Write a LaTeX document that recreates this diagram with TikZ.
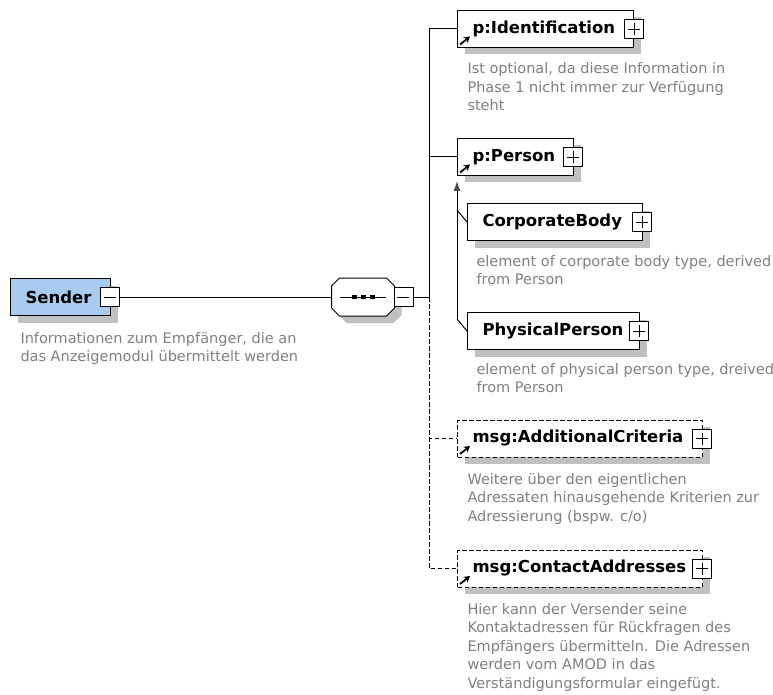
\documentclass[tikz,border=0pt]{standalone}
\usepackage{fontspec}
\setmainfont{DejaVu Sans}
\usetikzlibrary{arrows.meta, shadows}

\definecolor{senderblue}{RGB}{168, 204, 240}
\definecolor{shadowgray}{RGB}{192, 192, 192}
\definecolor{docgray}{RGB}{128, 128, 128}

\begin{document}
\begin{tikzpicture}[x = 1pt, y = -1pt, > = latex, line width = 1pt,
	element/.style = {draw, fill = white, inner xsep = 15pt, inner ysep = 0pt, minimum height = 37pt,
		anchor = west, align = left, font = {\fontsize{16.5}{19}\selectfont\bfseries\hyphenpenalty=10000\relax},
		drop shadow = {shadow xshift = 7pt, shadow yshift = -7pt, fill = shadowgray, opacity = 1}},
	optional/.style = {element, dash pattern = on 4.5pt off 2.5pt},
	optlink/.style = {dash pattern = on 4.5pt off 2.5pt},
	pmbox/.style = {draw, fill = white, minimum size = 19pt, inner sep = 0pt, line width = 0.9pt},
	plusbox/.style = {pmbox, path picture = {
		\draw [line width = 0.9pt] ([xshift = 3.5pt]path picture bounding box.west) -- ([xshift = -3.5pt]path picture bounding box.east);
		\draw [line width = 0.9pt] ([yshift = -3.5pt]path picture bounding box.north) -- ([yshift = 3.5pt]path picture bounding box.south);}},
	minusbox/.style = {pmbox, path picture = {
		\draw [line width = 0.9pt] ([xshift = 3.5pt]path picture bounding box.west) -- ([xshift = -3.5pt]path picture bounding box.east);}},
	refarrow/.style = {line width = 1.8pt, -{Stealth[length = 6pt, width = 7pt]}},
	% doc nodes sit on the baseline of their last line
	doc/.style = {anchor = base west, inner sep = 0pt, align = left, text = docgray,
		font = {\fontsize{14.5}{18.5}\selectfont}}]

	\useasboundingbox (0, 0) rectangle (773, 695);

	% The root element

	\node [element, fill = senderblue, text width = 70pt] (sender) at (10, 297) {Sender};
	\node [minusbox] (senderpm) at ([xshift = -1.5pt]sender.east) {};
	\node [doc] (senderdoc) at (20, 361.5) {Informationen zum Empfänger, die an\\das Anzeigemodul übermittelt werden};

	% Sequence compositor

	\node [minimum width = 62pt, minimum height = 37pt, inner sep = 0pt] (seq) at (363, 297) {};

	\fill [shadowgray, transform canvas = {shift = {(7pt, -7pt)}}] ([xshift = 8pt]seq.north west) -- ([xshift = -8pt]seq.north east)
		-- ([yshift = -8pt]seq.north east) -- ([yshift = 8pt]seq.south east) -- ([xshift = -8pt]seq.south east)
		-- ([xshift = 8pt]seq.south west) -- ([yshift = 8pt]seq.south west) -- ([yshift = -8pt]seq.north west) -- cycle;
	\draw [fill = white] ([xshift = 8pt]seq.north west) -- ([xshift = -8pt]seq.north east)
		-- ([yshift = -8pt]seq.north east) -- ([yshift = 8pt]seq.south east) -- ([xshift = -8pt]seq.south east)
		-- ([xshift = 8pt]seq.south west) -- ([yshift = 8pt]seq.south west) -- ([yshift = -8pt]seq.north west) -- cycle;

	\draw (340, 297) -- (386, 297);
	\foreach \x in {352, 361, 370}
		\fill (\x, 294.75) rectangle ++(5, 4.5);

	\node [minusbox, anchor = west] (seqpm) at ([xshift = -1pt]seq.east) {};

	\draw (senderpm.east) -- (seq.west);

	% Children of the sequence

	\coordinate (bus) at (429, 297);

	\node [element, text width = 146pt] (ident) at (457, 29) {p:Identification};
	\node [plusbox] (identpm) at (ident.east) {};
	\node [doc] (identdoc) at (467, 111) {Ist optional, da diese Information in\\Phase 1 nicht immer zur Verfügung\\steht};

	\node [element, text width = 86pt] (person) at (457, 157) {p:Person};
	\node [plusbox] (personpm) at ([xshift = -1pt]person.east) {};

	\node [element, text width = 145pt] (corp) at (467, 222) {CorporateBody};
	\node [plusbox] (corppm) at ([xshift = -1pt]corp.east) {};
	\node [doc] (corpdoc) at (476, 284.5) {element of corporate body type, derived\\from Person};

	\node [element, text width = 142pt] (phys) at (467, 331) {PhysicalPerson};
	\node [plusbox] (physpm) at ([xshift = -1pt]phys.east) {};
	\node [doc] (physdoc) at (476, 392.5) {element of physical person type, dreived\\from Person};

	\node [optional, text width = 215pt] (addcrit) at (457, 438.5) {msg:AdditionalCriteria};
	\node [plusbox] (addcritpm) at ([xshift = -1pt]addcrit.east) {};
	\node [doc] (addcritdoc) at (467, 521) {Weitere über den eigentlichen\\Adressaten hinausgehende Kriterien zur\\Adressierung (bspw. c/o)};

	\node [optional, text width = 215pt] (contact) at (457, 568.5) {msg:ContactAddresses};
	\node [plusbox] (contactpm) at ([xshift = -1pt]contact.east) {};
	\node [doc] (contactdoc) at (467, 688) {Hier kann der Versender seine\\Kontaktadressen für Rückfragen des\\Empfängers übermitteln. Die Adressen\\werden vom AMOD in das\\Verständigungsformular eingefügt.};

	% Reference arrows

	\foreach \n in {ident, person, addcrit, contact}
		\draw [refarrow] ([shift = {(3, -3.5)}]\n.south west) -- ++(10, -8);

	% Connectors

	\draw (seqpm.east) -- (bus);
	\draw (bus) |- (ident.west);
	\draw (bus) |- (person.west);
	\draw [optlink] (bus) |- (addcrit.west);
	\draw [optlink] (bus) |- (contact.west);

	% Substitution group

	\coordinate (cbfork) at (457, 210);
	\coordinate (ppfork) at (457, 319);

	\draw [-{Latex[length = 10pt, width = 7pt, color = black!70]}] (ppfork) -- ([yshift = -5pt]person.south west);
	\draw (cbfork) -- (corp.west);
	\draw (ppfork) -- (phys.west);

\end{tikzpicture}
\end{document}
